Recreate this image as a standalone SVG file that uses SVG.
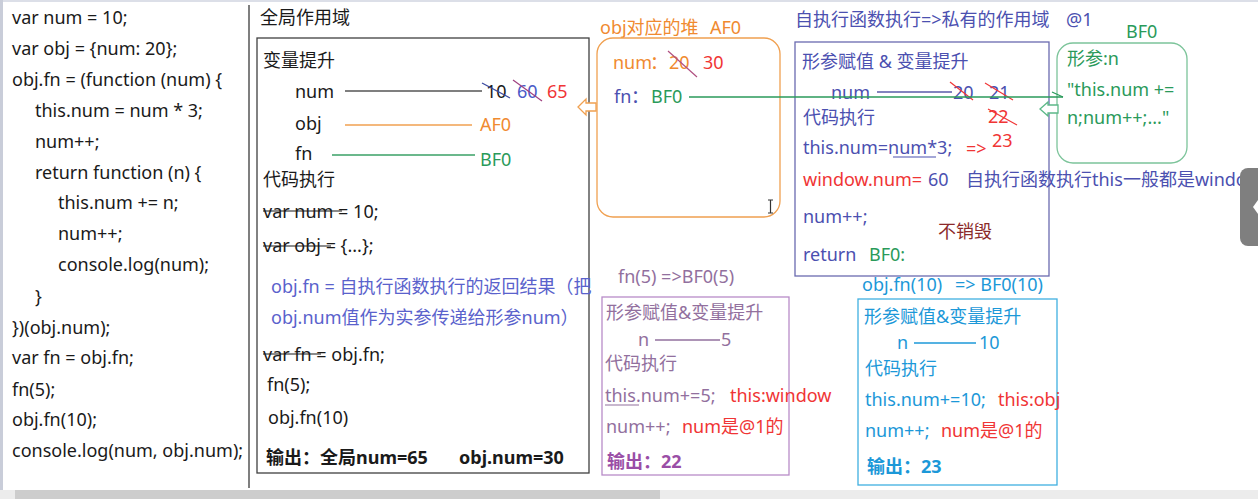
<svg xmlns="http://www.w3.org/2000/svg" width="1258" height="499" viewBox="0 0 1258 499">
<style>
text{font-family:"Noto Sans","Noto Sans CJK SC",sans-serif;font-size:18px;fill:#1a1a1a}
.b{font-weight:bold}
.bl{fill:#4b50b0}
.lb{fill:#5a62cc}
.or{fill:#f08a30}
.gr{fill:#2a9a5a}
.rd{fill:#f03535}
.pu{fill:#92709e}
.pb{fill:#9a4ea6}
.sk{fill:#1c98d8}
.box{fill:none;stroke-width:1.3}
.st{stroke-width:1.2;fill:none}
</style>
<rect width="1258" height="499" fill="#ffffff"/>
<rect x="0" y="0" width="1258" height="2" fill="#dcdfe8"/>
<rect x="0" y="0" width="3" height="490" fill="#c9cdd9"/>
<line x1="249" y1="5" x2="249" y2="488" stroke="#555" stroke-width="1.5"/>

<g id="code">
<text x="12" y="24">var num = 10;</text>
<text x="12" y="55">var obj = {num: 20};</text>
<text x="12" y="86">obj.fn = (function (num) {</text>
<text x="35" y="117">this.num = num * 3;</text>
<text x="35" y="148">num++;</text>
<text x="35" y="179">return function (n) {</text>
<text x="58" y="209">this.num += n;</text>
<text x="58" y="240">num++;</text>
<text x="58" y="271">console.log(num);</text>
<text x="35" y="303">}</text>
<text x="12" y="334">})(obj.num);</text>
<text x="12" y="364">var fn = obj.fn;</text>
<text x="12" y="396">fn(5);</text>
<text x="12" y="426">obj.fn(10);</text>
<text x="12" y="457">console.log(num, obj.num);</text>
</g>

<g id="global-scope">
<text x="260" y="24">全局作用域</text>
<rect class="box" x="257" y="38" width="332" height="435" stroke="#404040" stroke-width="1.5"/>
<text x="263" y="67">变量提升</text>
<text x="295" y="98">num</text>
<text x="486" y="98">10</text>
<text x="517" y="98" style="fill:#4a5ac8">60</text>
<text x="547" y="98" class="rd">65</text>
<text x="295" y="130">obj</text>
<text x="480" y="131" class="or">AF0</text>
<text x="295" y="160">fn</text>
<text x="480" y="166" class="gr">BF0</text>
<text x="263" y="186">代码执行</text>
<text x="263" y="218">var num = 10;</text>
<text x="263" y="252">var obj = {...};</text>
<text x="271" y="293" class="lb">obj.fn = 自执行函数执行的返回结果（把</text>
<text x="271" y="324" class="lb">obj.num值作为实参传递给形参num）</text>
<text x="263" y="361">var fn = obj.fn;</text>
<text x="267" y="391">fn(5);</text>
<text x="268" y="424">obj.fn(10)</text>
<text x="266" y="464" class="b">输出：全局num=65<tspan x="459">obj.num=30</tspan></text>
<g class="st" stroke="#1a1a1a">
<line x1="263" y1="211" x2="342" y2="211"/>
<line x1="263" y1="246" x2="331" y2="246"/>
<line x1="263" y1="354" x2="321" y2="354"/>
</g>
<line class="st" x1="482" y1="83" x2="510" y2="98" stroke="#3a4aa0"/>
<line class="st" x1="513" y1="80" x2="542" y2="101" stroke="#a04080"/>
</g>

<g id="heap-AF0">
<text x="600" y="34" class="or">obj对应的堆<tspan x="710">AF0</tspan></text>
<rect class="box" x="597" y="38" width="183" height="179" rx="16" stroke="#f0a050"/>
<text x="613" y="69" class="or">num<tspan x="650">：</tspan><tspan x="669">20</tspan><tspan x="703" class="rd">30</tspan></text>
<line class="st" x1="668" y1="51" x2="697" y2="77" stroke="#b05080"/>
<text x="614" y="103" class="bl">fn<tspan x="631">：</tspan><tspan x="651" class="gr">BF0</tspan></text>
<path d="M768 200h5M770.5 200v13M768 213h5" stroke="#333" stroke-width="1.2" fill="none"/>
</g>

<g id="private-scope">
<text x="795" y="26" class="bl">自执行函数执行=&gt;私有的作用域<tspan x="1066">@1</tspan></text>
<rect class="box" x="795" y="42" width="254" height="234" stroke="#6a6ab0"/>
<text x="802" y="68" class="bl">形参赋值 &amp; 变量提升</text>
<text x="831" y="99" class="bl">num</text>
<text x="953" y="99" class="bl">20</text>
<text x="989" y="99" class="bl">21</text>
<text x="988" y="123" class="rd">22</text>
<text x="803" y="124" class="bl">代码执行</text>
<text x="803" y="154" class="bl">this.num=num*3;</text>
<line x1="893" y1="157" x2="936" y2="157" stroke="#4b50b0" stroke-width="1.2"/>
<text x="966" y="155" class="rd">=&gt;</text>
<text x="992" y="147" class="rd">23</text>
<text x="803" y="186" class="rd">window.num=<tspan x="928" class="bl">60</tspan></text>
<text x="966" y="186" class="bl">自执行函数执行this一般都是window</text>
<text x="803" y="223" class="bl">num++;</text>
<text x="938" y="238" style="fill:#8b2a2a">不销毁</text>
<text x="803" y="261" class="bl">return<tspan x="869" class="gr">BF0:</tspan></text>
<g class="st" stroke="#f03535">
<line x1="950" y1="82" x2="973" y2="100"/>
<line x1="985" y1="83" x2="1013" y2="100"/>
<line x1="988" y1="109" x2="1017" y2="125"/>
</g>
</g>

<g id="function-BF0">
<text x="1126" y="38" class="gr">BF0</text>
<rect class="box" x="1057" y="43" width="130" height="120" rx="16" stroke="#7cc49a"/>
<text x="1067" y="65" class="gr">形参:n</text>
<text x="1067" y="96" class="gr">"this.num  +=</text>
<text x="1067" y="124" class="gr">n;num++;..."</text>
</g>

<g id="call-fn5">
<text x="618" y="283" class="pu">fn(5) =&gt;BF0(5)</text>
<rect class="box" x="602" y="297" width="187" height="178" stroke="#b88cc8"/>
<text x="606" y="319" class="pu">形参赋值&amp;变量提升</text>
<text x="638" y="346" class="pu">n</text>
<text x="721" y="346" class="pu">5</text>
<text x="605" y="370" class="pu">代码执行</text>
<text x="605" y="402" class="pu">this.num+=5;<tspan x="730" class="rd">this:window</tspan></text>
<line x1="605" y1="405" x2="639" y2="405" stroke="#92709e" stroke-width="1.2"/>
<text x="606" y="433" class="pu">num++;<tspan x="682" class="rd">num是@1的</tspan></text>
<text x="607" y="468" class="b pb">输出：22</text>
</g>

<g id="call-objfn10">
<text x="862" y="291" class="sk">obj.fn(10)<tspan x="955">=&gt; BF0(10)</tspan></text>
<rect class="box" x="858" y="299" width="199" height="186" stroke="#40b0e0"/>
<text x="864" y="323" class="sk">形参赋值&amp;变量提升</text>
<text x="897" y="349" class="sk">n</text>
<text x="979" y="349" class="sk">10</text>
<text x="865" y="375" class="sk">代码执行</text>
<text x="865" y="406" class="sk">this.num+=10;<tspan x="998" class="rd">this:obj</tspan></text>
<text x="865" y="437" class="sk">num++;<tspan x="941" class="rd">num是@1的</tspan></text>
<text x="867" y="473" class="b sk">输出：23</text>
</g>

<g id="connectors" fill="none" stroke-width="1.3">
<line x1="345" y1="91" x2="482" y2="91" stroke="#555"/>
<line x1="345" y1="125" x2="472" y2="125" stroke="#f0a050"/>
<line x1="332" y1="155" x2="475" y2="155" stroke="#3aa066"/>
<line x1="877" y1="92" x2="952" y2="92" stroke="#5a5aa8"/>
<line x1="655" y1="340" x2="720" y2="340" stroke="#92709e"/>
<line x1="914" y1="343" x2="976" y2="343" stroke="#1c98d8"/>
<line x1="689" y1="97" x2="1063" y2="97" stroke="#2a9a5a"/>
<line x1="1052" y1="92" x2="1063" y2="97" stroke="#2a9a5a"/>
<polygon points="578,107 586,99 586,103 596,103 596,111 586,111 586,115" fill="#fff" stroke="#f0a050"/>
<polygon points="1040,109 1048,102 1048,105 1058,105 1058,113 1048,113 1048,116" fill="#fff" stroke="#5cb888"/>
</g>

<g id="ui-chrome">
<rect x="1240" y="168" width="30" height="78" rx="8" fill="#7f7f7f"/>
<polygon points="1258,200 1253,207 1258,214" fill="#fff"/>
<rect x="0" y="490" width="1258" height="9" fill="#ececec"/>
<rect x="15" y="490" width="645" height="9" fill="#cdcdcd"/>
</g>
</svg>
